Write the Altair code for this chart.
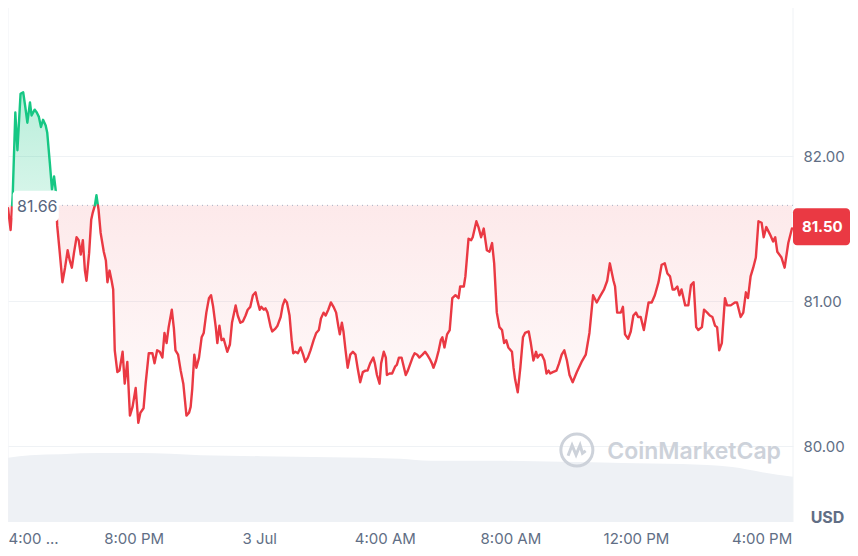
import altair as alt
import pandas as pd

# ---- price series (minutes after 4:00 PM, price in USD) ----
minutes = [0, 5, 9, 14, 18, 24, 29, 33, 37, 42, 45, 51, 55, 59, 63, 67, 72, 75, 80, 84,
           88, 91, 94, 99, 104, 109, 114, 118, 122, 126, 131, 135, 139, 143, 147, 150, 155, 159, 162, 166,
           169, 173, 177, 183, 187, 190, 194, 198, 201, 204, 209, 213, 219, 223, 228, 233, 238, 244, 249, 253,
           259, 263, 269, 276, 280, 285, 290, 295, 299, 303, 307, 313, 317, 320, 325, 330, 335, 338, 341, 346,
           349, 352, 356, 360, 365, 370, 374, 379, 384, 388, 392, 397, 400, 404, 408, 412, 419, 424, 428, 435,
           439, 444, 449, 454, 458, 463, 468, 473, 476, 481, 484, 489, 492, 496, 502, 505, 511, 515, 521, 525,
           529, 533, 538, 542, 545, 549, 554, 559, 564, 568, 573, 578, 584, 589, 594, 598, 603, 607, 612, 617,
           622, 627, 631, 634, 638, 641, 645, 649, 654, 659, 664, 668, 673, 678, 683, 687, 692, 698, 701, 705,
           710, 713, 718, 722, 724, 729, 734, 740, 743, 747, 752, 756, 760, 764, 769, 773, 777, 782, 786, 792,
           797, 801, 806, 810, 813, 818, 823, 827, 830, 834, 839, 844, 849, 855, 861, 864, 871, 874, 877, 880,
           885, 888, 895, 899, 904, 909, 915, 920, 925, 929, 934, 939, 944, 948, 952, 956, 963, 966, 969, 974,
           979, 984, 988, 995, 999, 1004, 1009, 1012, 1016, 1020, 1025, 1029, 1033, 1036, 1041, 1048, 1053, 1058, 1063, 1068,
           1073, 1079, 1087, 1096, 1104, 1111, 1118, 1125, 1131, 1139, 1145, 1150, 1157, 1160, 1164, 1171, 1175, 1179, 1185, 1190,
           1195, 1200, 1204, 1209, 1215, 1224, 1230, 1236, 1243, 1249, 1255, 1260, 1265, 1270, 1274, 1279, 1283, 1287, 1294, 1300,
           1305, 1310, 1315, 1319, 1326, 1330, 1336, 1341, 1346, 1351, 1355, 1359, 1364, 1370, 1374, 1381, 1389, 1393, 1400, 1405,
           1410, 1414, 1419, 1424, 1429, 1434, 1440, 1444, 1449, 1456, 1462, 1466, 1470, 1478, 1484, 1491, 1498]
prices = [81.64, 81.49, 81.73, 82.30, 82.04, 82.43, 82.44, 82.34, 82.23, 82.37, 82.28, 82.32, 82.30, 82.27, 82.20, 82.25, 82.21, 82.16, 81.95, 81.77,
          81.86, 81.77, 81.52, 81.33, 81.13, 81.23, 81.35, 81.28, 81.23, 81.33, 81.44, 81.42, 81.32, 81.42, 81.21, 81.14, 81.33, 81.56, 81.61, 81.66,
          81.73, 81.63, 81.47, 81.34, 81.28, 81.13, 81.21, 81.14, 81.08, 80.66, 80.51, 80.52, 80.65, 80.43, 80.58, 80.21, 80.27, 80.40, 80.16, 80.23,
          80.26, 80.43, 80.64, 80.64, 80.57, 80.66, 80.65, 80.61, 80.78, 80.71, 80.82, 80.94, 80.81, 80.66, 80.63, 80.52, 80.43, 80.32, 80.21, 80.23,
          80.27, 80.39, 80.63, 80.54, 80.61, 80.75, 80.78, 80.92, 81.02, 81.04, 80.96, 80.82, 80.71, 80.83, 80.73, 80.74, 80.65, 80.70, 80.85, 80.97,
          80.90, 80.85, 80.86, 80.90, 80.94, 80.96, 81.04, 81.06, 81.01, 80.94, 80.96, 80.94, 80.95, 80.92, 80.82, 80.79, 80.81, 80.83, 80.89, 80.97,
          81.01, 80.99, 80.90, 80.73, 80.64, 80.65, 80.64, 80.68, 80.63, 80.58, 80.61, 80.66, 80.73, 80.78, 80.80, 80.88, 80.92, 80.90, 80.94, 80.99,
          80.96, 80.92, 80.83, 80.77, 80.85, 80.79, 80.66, 80.54, 80.63, 80.65, 80.63, 80.54, 80.44, 80.51, 80.52, 80.52, 80.57, 80.61, 80.57, 80.49,
          80.43, 80.57, 80.65, 80.61, 80.49, 80.50, 80.50, 80.55, 80.56, 80.61, 80.61, 80.55, 80.49, 80.52, 80.57, 80.61, 80.64, 80.63, 80.61, 80.63,
          80.65, 80.63, 80.60, 80.57, 80.54, 80.59, 80.66, 80.73, 80.75, 80.68, 80.77, 80.80, 81.02, 81.04, 81.02, 81.10, 81.10, 81.17, 81.30, 81.43,
          81.42, 81.44, 81.55, 81.51, 81.44, 81.50, 81.35, 81.34, 81.40, 81.26, 80.92, 80.82, 80.80, 80.71, 80.73, 80.68, 80.65, 80.54, 80.46, 80.37,
          80.54, 80.75, 80.78, 80.79, 80.71, 80.59, 80.65, 80.61, 80.63, 80.63, 80.59, 80.50, 80.52, 80.50, 80.51, 80.52, 80.57, 80.63, 80.66, 80.59,
          80.49, 80.44, 80.51, 80.58, 80.63, 80.78, 81.04, 80.99, 81.03, 81.08, 81.14, 81.26, 81.14, 81.10, 80.92, 80.92, 80.96, 80.77, 80.74, 80.79,
          80.90, 80.92, 80.89, 80.89, 80.80, 80.99, 80.99, 81.04, 81.13, 81.25, 81.26, 81.19, 81.17, 81.08, 81.08, 81.10, 81.04, 81.08, 80.97, 80.97,
          81.11, 81.13, 80.82, 80.80, 80.82, 80.94, 80.92, 80.90, 80.89, 80.83, 80.82, 80.66, 80.71, 81.02, 80.97, 80.97, 80.99, 80.99, 80.89, 80.92,
          81.06, 81.02, 81.17, 81.23, 81.30, 81.55, 81.54, 81.44, 81.51, 81.46, 81.41, 81.44, 81.34, 81.30, 81.23, 81.40, 81.50]

BASE = 81.66   # reference (opening) price
LAST = 81.50   # latest price

# ---- volume band (arbitrary units, 0-100 scale) ----
vol_minutes = [0, 43, 101, 177, 253, 368, 483, 616, 750, 807, 941, 1056, 1174, 1288, 1384, 1441, 1500]
vol_values = [12.5, 13.0, 13.2, 13.4, 13.4, 13.0, 12.8, 12.6, 12.3, 11.9, 11.9, 11.7, 11.5, 11.3, 10.7, 9.7, 8.8]

x_ticks = [0, 240, 480, 720, 960, 1200, 1440]
x_labels = ["4:00 ...", "8:00 PM", "3 Jul", "4:00 AM", "8:00 AM", "12:00 PM", "4:00 PM"]
y_ticks = [80, 81, 82]

RED = "#ea3943"
GREEN = "#16c784"
GRAY_TXT = "#616e85"
FONT = "Inter"

# ---- build series with baseline crossing points ----
pts = []
for i in range(len(minutes)):
    if i > 0:
        p0, p1 = prices[i - 1], prices[i]
        if (p0 - BASE) * (p1 - BASE) < 0:
            t = (BASE - p0) / (p1 - p0)
            pts.append((minutes[i - 1] + t * (minutes[i] - minutes[i - 1]), BASE))
    pts.append((minutes[i], prices[i]))

df = pd.DataFrame(pts, columns=["m", "p"])
df["hi"] = df["p"].clip(lower=BASE)
df["lo"] = df["p"].clip(upper=BASE)
df["base"] = BASE

rows = []
seg = 0
cur = None
for i in range(len(pts) - 1):
    (m0, p0), (m1, p1) = pts[i], pts[i + 1]
    side = "up" if (p0 + p1) / 2 > BASE else "down"
    if side != cur:
        seg += 1
        cur = side
        rows.append((m0, p0, side, seg))
    rows.append((m1, p1, side, seg))
line_df = pd.DataFrame(rows, columns=["m", "p", "side", "seg"])

vol_df = pd.DataFrame({"m": vol_minutes, "v": vol_values})

label_expr = ""
for v, l in zip(x_ticks, x_labels):
    label_expr += f"datum.value == {v} ? '{l}' : "
label_expr += "''"

XDOM = [0, 1500]
YDOM = [79.476, 83.021]


def xs():
    return alt.Scale(domain=XDOM, nice=False, zero=False)


def ys():
    return alt.Scale(domain=YDOM, nice=False, zero=False)


x_axis = alt.Axis(values=x_ticks, labelExpr=label_expr, grid=False, domain=False, ticks=False,
                  labelFontSize=15, labelColor=GRAY_TXT, labelFont=FONT, labelPadding=9,
                  labelFlush=True, title=None)
y_axis = alt.Axis(orient="right", values=y_ticks, format=".2f", grid=True, gridColor="#eff2f5",
                  gridWidth=1, domain=False, ticks=False, labelPadding=10, labelFontSize=15,
                  labelColor=GRAY_TXT, labelFont=FONT, title="USD", titleAngle=0, titleX=34,
                  titleY=509, titleAlign="center", titleBaseline="middle", titleFontSize=16,
                  titleFontWeight="bold", titleColor=GRAY_TXT, titleFont=FONT)


def XF(field):
    return alt.X(field, scale=xs(), axis=x_axis)


X = XF("m:Q")


def Y(field):
    return alt.Y(field, scale=ys(), axis=None)


vol = alt.Chart(vol_df).mark_area(color="#eef1f5", interpolate="monotone").encode(
    x=X,
    y=alt.Y("v:Q", scale=alt.Scale(domain=[0, 100], nice=False), axis=None),
)

# axis carrier (gridlines + labels)
axis_layer = alt.Chart(pd.DataFrame({"m": [0], "p": [BASE]})).mark_point(opacity=0).encode(
    x=X,
    y=alt.Y("p:Q", scale=ys(), axis=y_axis),
)

red_area = alt.Chart(df).mark_area(
    color=alt.Gradient(gradient="linear", x1=0, x2=0, y1=0, y2=1,
                       stops=[alt.GradientStop(color="rgba(234,57,67,0.11)", offset=0),
                              alt.GradientStop(color="rgba(234,57,67,0.02)", offset=1)])
).encode(x=X, y=Y("lo:Q"), y2="base:Q")

green_area = alt.Chart(df).mark_area(
    color=alt.Gradient(gradient="linear", x1=0, x2=0, y1=0, y2=1,
                       stops=[alt.GradientStop(color="rgba(22,199,132,0.30)", offset=0),
                              alt.GradientStop(color="rgba(22,199,132,0.16)", offset=1)])
).encode(x=X, y=Y("hi:Q"), y2="base:Q")

borders = alt.Chart(pd.DataFrame({"m": [0, 1500]})).mark_rule(color="#eff2f5", strokeWidth=1).encode(x=X)

base_rule = alt.Chart(pd.DataFrame({"base": [BASE]})).mark_rule(
    color="#a6b0c3", strokeDash=[1, 4], strokeWidth=1
).encode(y=Y("base:Q"))

line = alt.Chart(line_df).mark_line(strokeWidth=2.4, strokeJoin="round", strokeCap="round").encode(
    x=X,
    y=Y("p:Q"),
    detail="seg:N",
    color=alt.Color("side:N", scale=alt.Scale(domain=["up", "down"], range=[GREEN, RED]), legend=None),
)

base_box = alt.Chart(pd.DataFrame({"m0": [9], "m1": [97], "y0": [81.55], "y1": [81.76]})).mark_rect(
    color="white", cornerRadius=4
).encode(x=XF("m0:Q"), x2="m1:Q", y=Y("y0:Q"), y2="y1:Q")

base_text = alt.Chart(pd.DataFrame({"m": [56], "p": [BASE], "t": [f"{BASE:.2f}"]})).mark_text(
    fontSize=16, font=FONT, color="#58667e", align="center", baseline="middle", dy=2
).encode(x=X, y=Y("p:Q"), text="t:N")

last_box = alt.Chart(pd.DataFrame({"m0": [1500], "m1": [1609], "y0": [LAST - 0.115], "y1": [LAST + 0.14]})).mark_rect(
    color=RED, cornerRadius=4
).encode(x=XF("m0:Q"), x2="m1:Q", y=Y("y0:Q"), y2="y1:Q")

last_text = alt.Chart(pd.DataFrame({"m": [1556], "p": [LAST], "t": [f"{LAST:.2f}"]})).mark_text(
    fontSize=15, font=FONT, fontWeight="bold", color="white", align="center", baseline="middle", dy=-2
).encode(x=X, y=Y("p:Q"), text="t:N")

wm_text = alt.Chart(pd.DataFrame({"m": [1145], "p": [79.96], "t": ["CoinMarketCap"]})).mark_text(
    fontSize=23, font=FONT, fontWeight=600, color="#cdd2da", align="left", baseline="middle"
).encode(x=X, y=Y("p:Q"), text="t:N")

wm_circle = alt.Chart(pd.DataFrame({"m": [1087], "p": [79.972]})).mark_point(
    shape="circle", size=1024, filled=False, strokeWidth=3, color="#cdd2da", opacity=1
).encode(x=X, y=Y("p:Q"))

wm_mark = alt.Chart(pd.DataFrame({"m": [1087], "p": [79.972]})).mark_point(
    shape="M -0.55 0.35 L -0.3 -0.3 L -0.05 0.3 L 0.2 -0.3 L 0.35 0.2 L 0.55 0.05",
    size=1024, filled=False, strokeWidth=3, color="#cdd2da", opacity=1
).encode(x=X, y=Y("p:Q"))

chart = alt.layer(axis_layer, vol, red_area, green_area, borders, base_rule, wm_text, wm_circle, wm_mark,
                  line, base_box, base_text, last_box, last_text).resolve_scale(
    y="independent"
).resolve_axis(y="independent").properties(
    width=785, height=514, background="white",
    padding={"left": 0, "top": 0, "right": 57, "bottom": 26},
    autosize=alt.AutoSizeParams(type="none"),
).configure_view(stroke=None)

chart.save("out.html", embed_options={"renderer": "svg", "actions": False})
